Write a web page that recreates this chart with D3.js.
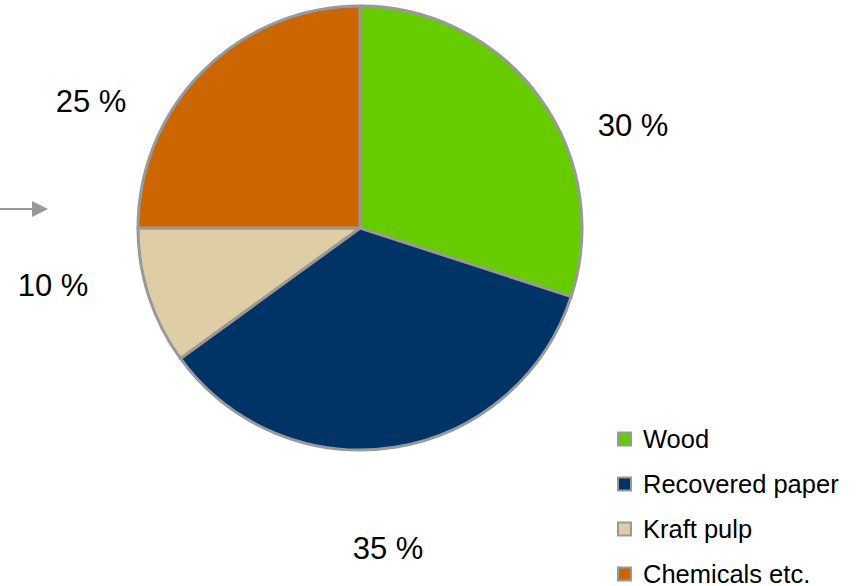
<!DOCTYPE html>
<html>
<head>
<meta charset="utf-8">
<script src="https://cdn.jsdelivr.net/npm/d3@7"></script>
<style>
  html, body { margin: 0; padding: 0; background: #fff; }
  svg { display: block; font-family: "Liberation Sans", Arial, sans-serif; }
</style>
</head>
<body>
<svg id="chart" width="866" height="586"></svg>
<script>
// Raw material cost shares
const categories = ["Wood", "Recovered paper", "Kraft pulp", "Chemicals etc."];
const shares = [30, 35, 10, 25];
const shareLabels = ["30 %", "35 %", "10 %", "25 %"];
const colors = ["#66cc00", "#003366", "#dfcda6", "#cc6600"];

// Layout
const W = 866, H = 586;
const cx = 360, cy = 228, R = 222;
const borderColor = "#999999";
// label anchors relative to the pie centre
const labelOffsets = [[273, -103], [28, 320], [-307, 57], [-269, -127]];

const svg = d3.select("#chart");

const pie = d3.pie().sort(null).value(d => d.value);
const arc = d3.arc().innerRadius(0).outerRadius(R);
const data = categories.map((c, i) => ({ name: c, value: shares[i], label: shareLabels[i], color: colors[i] }));

const g = svg.append("g").attr("transform", `translate(${cx},${cy})`);

g.selectAll("path.slice")
  .data(pie(data))
  .join("path")
  .attr("class", "slice")
  .attr("d", arc)
  .attr("fill", d => d.data.color)
  .attr("stroke", borderColor)
  .attr("stroke-width", 3)
  .attr("stroke-linejoin", "round");

g.selectAll("text.pct")
  .data(pie(data))
  .join("text")
  .attr("class", "pct")
  .attr("x", (d, i) => labelOffsets[i][0])
  .attr("y", (d, i) => labelOffsets[i][1])
  .attr("text-anchor", "middle")
  .attr("dominant-baseline", "central")
  .attr("font-size", 31)
  .attr("fill", "#000")
  .text(d => d.data.label);

// pointer arrow at the left edge
svg.append("line")
  .attr("x1", 0).attr("y1", 209).attr("x2", 34).attr("y2", 209)
  .attr("stroke", borderColor).attr("stroke-width", 2);
svg.append("path")
  .attr("d", "M32,201 L48,209 L32,217 Z")
  .attr("fill", borderColor);

// legend
const legendY = d3.scalePoint().domain(categories).range([439, 574]);
const lg = svg.append("g");
const items = lg.selectAll("g.item")
  .data(data)
  .join("g")
  .attr("class", "item")
  .attr("transform", d => `translate(617,${legendY(d.name)})`);

items.append("rect")
  .attr("x", 1).attr("y", -6.5)
  .attr("width", 13).attr("height", 13)
  .attr("fill", d => d.color)
  .attr("stroke", borderColor)
  .attr("stroke-width", 2);

items.append("text")
  .attr("x", 26)
  .attr("y", 0)
  .attr("dominant-baseline", "central")
  .attr("font-size", 25.5)
  .attr("fill", "#000")
  .text(d => d.name);
</script>
</body>
</html>
